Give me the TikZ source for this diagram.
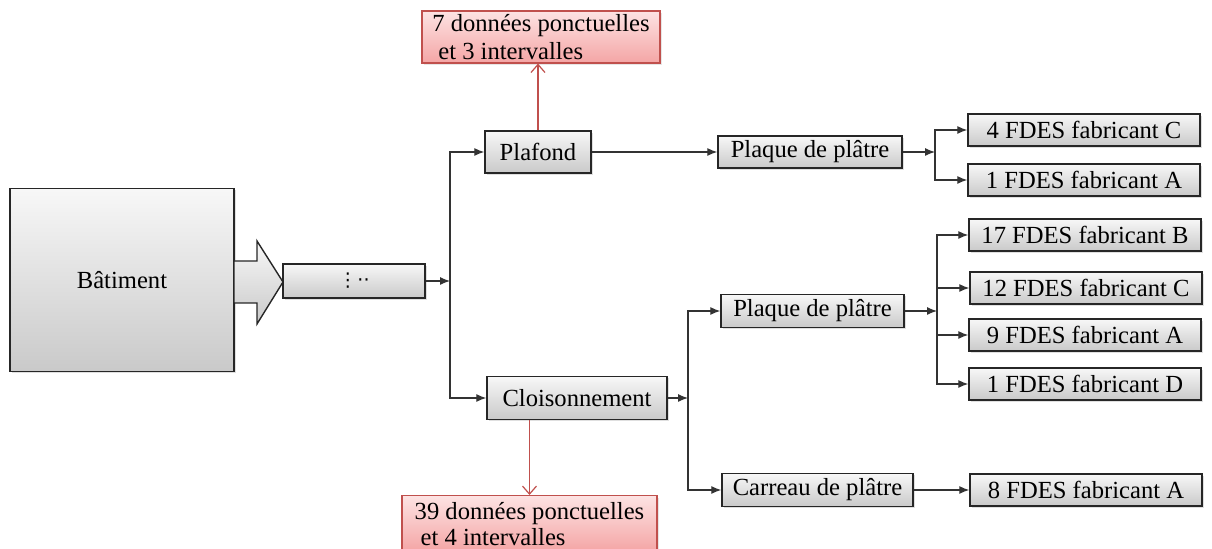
\documentclass[tikz,border=0pt]{standalone}
\usepackage{fontspec}
\setmainfont{Liberation Serif}
\newfontfamily\dotsfont{DejaVu Sans}
\usetikzlibrary{arrows.meta,shadows}

\definecolor{boxred}{HTML}{C0504D}
\definecolor{pinktop}{HTML}{FDE3E3}
\definecolor{pinkbot}{HTML}{F4A5A5}

\tikzset{
  box/.style={draw=black!85, line width=0.7pt, top color=gray!6, bottom color=gray!42,
    drop shadow={shadow xshift=1pt,shadow yshift=-1pt,opacity=0.25}, inner sep=1pt},
  leaf/.style={box, minimum width=116pt, inner ysep=0.5pt, minimum height=16pt},
  redbox/.style={draw=boxred, line width=0.6pt, top color=pinktop, bottom color=pinkbot,
    drop shadow={shadow xshift=1pt,shadow yshift=-1pt,opacity=0.2}, inner ysep=0pt, align=left},
  arr/.style={-{Latex[length=5pt,width=4pt]}, line width=0.6pt, draw=black!80},
  redarr/.style={-{Straight Barb[length=4pt,width=7pt]}, line width=0.6pt, draw=boxred}
}

\begin{document}
\begin{tikzpicture}[x=0.5pt,y=-0.5pt, font=\fontsize{12.3}{14}\selectfont]
    \useasboundingbox (0,0) rectangle (1212,549);

    \node[box, minimum width=112pt, minimum height=91.5pt](bat) at (122,280) {Bâtiment};
    \draw[draw=black!85, line width=0.7pt, top color=gray!6, bottom color=gray!42]
        (234,261) -- (257,261) -- (257,241) -- (283,282) -- (257,324) -- (257,303) -- (234,303) -- cycle;  % block arrow
    \node[box, minimum width=71pt, minimum height=17pt](dots) at (354,281) {{\dotsfont\fontsize{9.5}{10}\selectfont ⋮··}};

    \node[box, minimum width=53pt, minimum height=21pt](plafond) at (538,152) {Plafond};
    \node[box, minimum width=90pt, minimum height=21.5pt](cloison) at (577,398) {Cloisonnement};

    \node[redbox, minimum width=119pt, minimum height=26pt](redtop) at (541,37)
        {7 données ponctuelles\\\hspace*{3pt}et 3 intervalles};
    \node[redbox, minimum width=127.5pt, minimum height=28pt, anchor=north](redbot) at (529.5,495)
        {39 données ponctuelles\\[-1pt]\hspace*{3pt}et 4 intervalles};

    \node[box, minimum width=92pt, minimum height=16pt](plaqueA) at (810,152) {Plaque de plâtre};
    \node[box, minimum width=91.5pt, minimum height=16.5pt](plaqueB) at (812.5,311) {Plaque de plâtre};
    \node[box, minimum width=95.5pt, minimum height=16.5pt](carreau) at (817.5,490) {Carreau de plâtre};

    \node[leaf](fdesC1) at (1084,130) {4 FDES fabricant C};
    \node[leaf](fdesA1) at (1084,180) {1 FDES fabricant A};
    \node[leaf](fdesB2) at (1085,235) {17 FDES fabricant B};
    \node[leaf](fdesC2) at (1086,288) {12 FDES fabricant C};
    \node[leaf](fdesA2) at (1085,335) {9 FDES fabricant A};
    \node[leaf](fdesD2) at (1085,384) {1 FDES fabricant D};
    \node[leaf](fdesA3) at (1086,490) {8 FDES fabricant A};

    % junctions
    \coordinate (j1) at (450,281);
    \coordinate (j2) at (688,398);
    \coordinate (j3) at (935,152);
    \coordinate (j4) at (937,311);

    \draw[arr] (dots) -- (j1);
    \draw[arr] (j1) |- (plafond);
    \draw[arr] (j1) |- (cloison);
    \draw[arr] (plafond) -- (plaqueA);
    \draw[arr] (cloison) -- (j2);
    \draw[arr] (j2) |- (plaqueB);
    \draw[arr] (j2) |- (carreau);
    \draw[arr] (plaqueA) -- (j3);
    \draw[arr] (j3) |- (fdesC1);
    \draw[arr] (j3) |- (fdesA1);
    \draw[arr] (plaqueB) -- (j4);
    \foreach \leaf in {fdesB2,fdesC2,fdesA2,fdesD2}
        \draw[arr] (j4) |- (\leaf);
    \draw[arr] (carreau) -- (fdesA3);

    \draw[redarr] (plafond.north) -- (plafond.north |- redtop.south);
    \draw[redarr] (redbot.north |- cloison.south) -- (redbot.north);
\end{tikzpicture}
\end{document}
